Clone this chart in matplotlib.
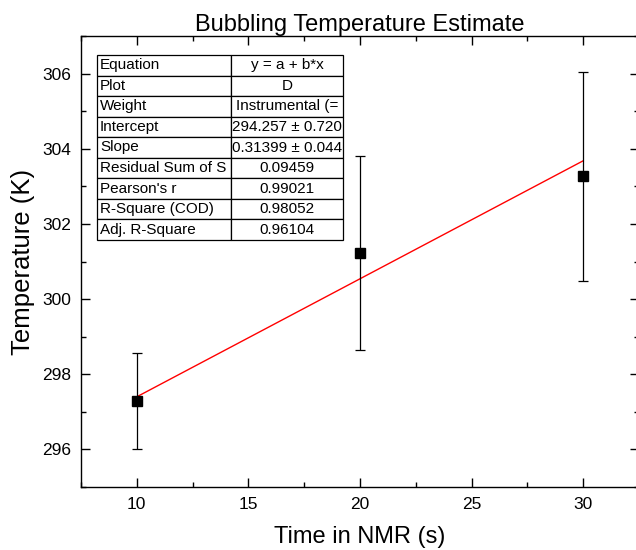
import matplotlib.pyplot as plt
from matplotlib.patches import Rectangle
from matplotlib.ticker import MultipleLocator

plt.rcParams['font.family'] = ['Liberation Sans', 'DejaVu Sans']

# data
time_s = [10, 20, 30]
temp_k = [297.29, 301.23, 303.27]
temp_err = [1.27, 2.58, 2.78]

# linear fit drawn in red
fit_x = [10, 30]
fit_y = [297.40, 303.68]

# fit report table
table_labels = ['Equation', 'Plot', 'Weight', 'Intercept', 'Slope',
                'Residual Sum of S', "Pearson's r", 'R-Square (COD)', 'Adj. R-Square']
table_values = ['y = a + b*x', 'D', 'Instrumental (=', '294.257 \u00b1 0.720',
                '0.31399 \u00b1 0.044', '0.09459', '0.99021', '0.98052', '0.96104']

fig = plt.figure(figsize=(6.36, 5.5), dpi=100)
ax = fig.add_axes([81 / 636, 1 - 487 / 550, 558 / 636, 451 / 550])

ax.plot(fit_x, fit_y, color='red', linewidth=1.0, zorder=2)
ax.errorbar(time_s, temp_k, yerr=temp_err, fmt='s', color='black',
            markersize=7, ecolor='black', elinewidth=0.9, capsize=3.5,
            capthick=0.9, zorder=3)

ax.set_xlim(7.5, 32.5)
ax.set_ylim(295, 307)
ax.xaxis.set_major_locator(MultipleLocator(5))
ax.xaxis.set_minor_locator(MultipleLocator(2.5))
ax.yaxis.set_major_locator(MultipleLocator(2))
ax.yaxis.set_minor_locator(MultipleLocator(1))
ax.tick_params(which='both', direction='in', top=True, right=True,
               width=1.0, labelsize=12.5)
ax.tick_params(which='major', length=6.5, pad=7)
ax.tick_params(which='minor', length=3.5)
for sp in ax.spines.values():
    sp.set_linewidth(1.0)

ax.set_title('Bubbling Temperature Estimate', fontsize=17, pad=1)
ax.set_xlabel('Time in NMR (s)', fontsize=17, labelpad=10)
ax.set_ylabel('Temperature (K)', fontsize=18.5, labelpad=5)

# table drawn cell by cell (axes coordinates, from pixel positions)
W, H = 558, 451
left, mid, right = 97, 231, 343
top, row_h = 55, (240 - 55) / 9


def ax_x(px):
    return (px - 81) / W


def ax_y(py):
    return (487 - py) / H


for i, (lab, val) in enumerate(zip(table_labels, table_values)):
    y0 = top + i * row_h
    for a, b in [(left, mid), (mid, right)]:
        ax.add_patch(Rectangle((ax_x(a), ax_y(y0 + row_h)), (b - a) / W, row_h / H,
                               transform=ax.transAxes, facecolor='white',
                               edgecolor='black', linewidth=0.9, zorder=4,
                               clip_on=False))
    yc = ax_y(y0 + row_h / 2)
    ax.text(ax_x(left + 3), yc, lab, transform=ax.transAxes, fontsize=11,
            ha='left', va='center', zorder=5)
    ax.text(ax_x((mid + right) / 2), yc, val, transform=ax.transAxes, fontsize=11,
            ha='center', va='center', zorder=5)

fig.savefig('out.png', dpi=100)
